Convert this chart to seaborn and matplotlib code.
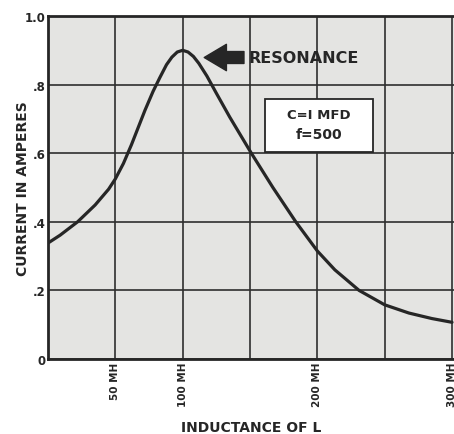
# Series resonance curve
# Current vs inductance, C = 1 MFD, f = 500

import numpy as np
import pandas as pd
import seaborn as sns
import matplotlib.pyplot as plt
from matplotlib.patches import Rectangle

# DATA
inductance_mh = [0, 9, 22, 35, 45, 50, 56, 62, 66, 72, 78, 83, 88, 92, 96,
                 100, 104, 108, 112, 118, 125, 135, 151, 167, 184, 200, 213,
                 231, 250, 268, 285, 300]
current_amps = [0.338, 0.361, 0.40, 0.449, 0.495, 0.525, 0.57, 0.625, 0.665,
                0.725, 0.78, 0.82, 0.858, 0.88, 0.895, 0.90, 0.895, 0.882,
                0.862, 0.825, 0.775, 0.705, 0.60, 0.50, 0.40, 0.315, 0.26,
                0.20, 0.158, 0.134, 0.118, 0.107]

x_ticks = [0, 50, 100, 150, 200, 250, 300]
x_tick_labels = ['', '50 MH', '100 MH', '', '200 MH', '', '300 MH']
y_ticks = [0, 0.2, 0.4, 0.6, 0.8, 1.0]
y_tick_labels = ['0', '.2', '.4', '.6', '.8', '1.0']

df = pd.DataFrame({'L': inductance_mh, 'I': current_amps})

# STYLE
sns.set_style('white')
plt.rcParams['font.family'] = ['DejaVu Sans']
plt.rcParams['font.weight'] = 'bold'
ink = '#262626'

fig = plt.figure(figsize=(4.54, 4.35), dpi=100)
ax = fig.add_axes([48 / 454, 75 / 435, 406 / 454, 343 / 435])
ax.set_facecolor('#e4e4e2')

sns.lineplot(data=df, x='L', y='I', ax=ax, color=ink, linewidth=2.3)

ax.set_xlim(0, 301.5)
ax.set_ylim(0, 1.0)
ax.set_xticks(x_ticks)
ax.set_xticklabels(x_tick_labels, rotation=90, fontsize=7.5, color=ink)
ax.set_yticks(y_ticks)
ax.set_yticklabels(y_tick_labels, fontsize=8.5, color=ink)
ax.tick_params(axis='both', length=0, pad=2)

ax.grid(True, color='#2e2e2e', linewidth=1.2)
ax.set_axisbelow(True)
for side in ['left', 'bottom', 'top']:
    ax.spines[side].set_color(ink)
    ax.spines[side].set_linewidth(2)
ax.spines['right'].set_visible(False)

ax.set_xlabel('INDUCTANCE OF L', fontsize=10, fontweight='bold', color=ink, labelpad=10)
ax.set_ylabel('CURRENT IN AMPERES', fontsize=10, fontweight='bold', color=ink)
ax.yaxis.set_label_coords(-0.045, 0.5)

# RESONANCE ARROW
ax.annotate('RESONANCE', xy=(116, 0.879), xytext=(149, 0.879),
            fontsize=11.5, color=ink, ha='left', va='center',
            arrowprops=dict(arrowstyle='simple,head_length=0.8,head_width=0.95,tail_width=0.43',
                            fc=ink, ec=ink, mutation_scale=20, shrinkA=1, shrinkB=0))

# PARAMETER BOX
ax.add_patch(Rectangle((161, 0.603), 80, 0.154, facecolor='white',
                       edgecolor=ink, linewidth=1.3, zorder=3))
ax.text(201, 0.713, 'C=I MFD', fontsize=9.5, color=ink, ha='center', va='center', zorder=4)
ax.text(201, 0.655, 'f=500', fontsize=10, color=ink, ha='center', va='center', zorder=4)

plt.savefig('out.png', dpi=100)
